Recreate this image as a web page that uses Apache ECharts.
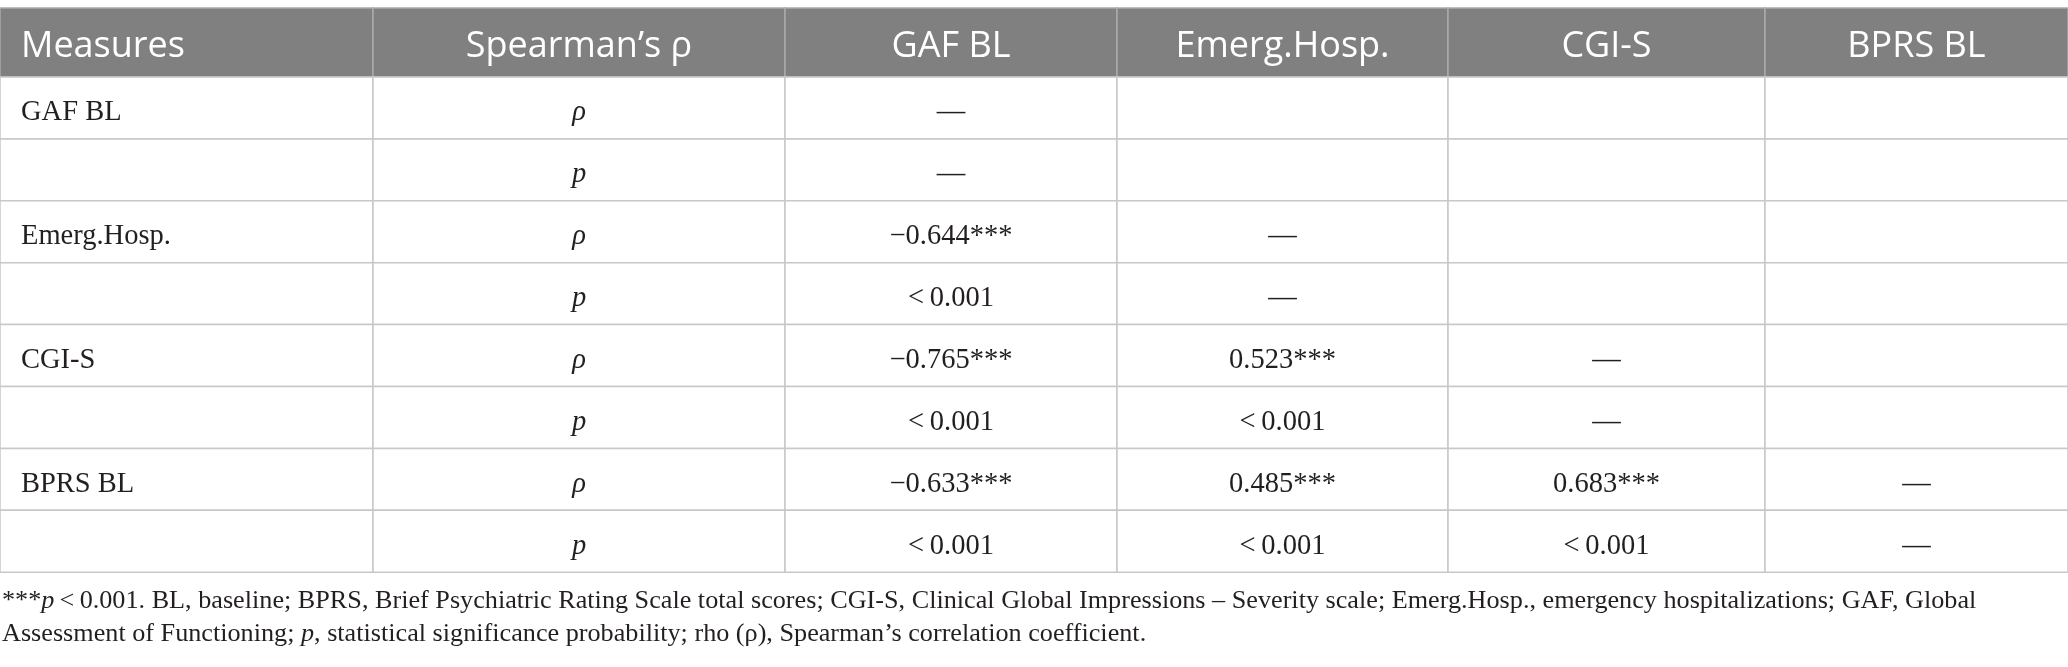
<!DOCTYPE html>
<html><head><meta charset="utf-8">
<script src="https://cdn.jsdelivr.net/npm/echarts@6/dist/echarts.min.js"></script>
<style>html,body{margin:0;padding:0;background:#fff}#c{width:2068px;height:667px}</style>
</head><body><div id="c"></div>
<script>
// ---- data ----
const headers = ['Measures', 'Spearman\u2019s \u03c1', 'GAF BL', 'Emerg.Hosp.', 'CGI-S', 'BPRS BL'];
const measures = ['GAF BL', '', 'Emerg.Hosp.', '', 'CGI-S', '', 'BPRS BL', ''];
const statLabels = ['\u03c1', 'p', '\u03c1', 'p', '\u03c1', 'p', '\u03c1', 'p'];
const gafBL = ['\u2014', '\u2014', '\u22120.644***', '<\u20090.001', '\u22120.765***', '<\u20090.001', '\u22120.633***', '<\u20090.001'];
const emergHosp = ['', '', '\u2014', '\u2014', '0.523***', '<\u20090.001', '0.485***', '<\u20090.001'];
const cgiS = ['', '', '', '', '\u2014', '\u2014', '0.683***', '<\u20090.001'];
const bprsBL = ['', '', '', '', '', '', '\u2014', '\u2014'];
const footLine1 = ['***', 'p', '\u2009<\u20090.001. BL, baseline; BPRS, Brief Psychiatric Rating Scale total scores; CGI-S, Clinical Global Impressions \u2013 Severity scale; Emerg.Hosp., emergency hospitalizations; GAF, Global'];
const footLine2 = ['Assessment of Functioning; ', 'p', ', statistical significance probability; rho (\u03c1), Spearman\u2019s correlation coefficient.'];

// ---- layout (not data) ----
const colEdges = [0, 373, 785, 1117, 1448, 1765, 2068];
const headerH = 69, rowH = 61.9;
const rowTop = r => r === 0 ? 0 : headerH + (r - 1) * rowH;
const rowBot = r => r === 0 ? headerH : headerH + r * rowH;
const tableH = headerH + 8 * rowH;

const bodyCols = [measures, statLabels, gafBL, emergHosp, cgiS, bprsBL];
const cells = [];
headers.forEach((h, c) => cells.push([c, 0, h]));
for (let r = 0; r < 8; r++) {
  bodyCols.forEach((col, c) => cells.push([c, r + 1, col[r]]));
}

const chart = echarts.init(document.getElementById('c'), null, {renderer: 'canvas'});
chart.setOption({
  animation: false,
  grid: {left: 0, right: 0, top: 8, height: tableH},
  xAxis: {type: 'value', min: 0, max: 2068, show: false},
  yAxis: {type: 'value', min: 0, max: tableH, inverse: true, show: false},
  series: [{
    type: 'custom',
    data: cells,
    renderItem: function (params, api) {
      const c = api.value(0), r = api.value(1);
      const txt = cells[params.dataIndex][2];
      const p0 = api.coord([colEdges[c], rowTop(r)]);
      const p1 = api.coord([colEdges[c + 1], rowBot(r)]);
      const isHead = r === 0;
      const left = c === 0;
      const children = [{
        type: 'rect',
        shape: {x: p0[0], y: p0[1], width: p1[0] - p0[0], height: p1[1] - p0[1]},
        style: {fill: isHead ? '#7f807f' : '#ffffff', stroke: isHead ? '#a9aaa9' : '#c8c8c8', lineWidth: 1.5}
      }];
      if (txt) {
        children.push({
          type: 'text',
          x: left ? p0[0] + 21 : (p0[0] + p1[0]) / 2,
          y: (p0[1] + p1[1]) / 2 + (isHead ? 4 : 5),
          style: {
            text: txt,
            align: left ? 'left' : 'center',
            verticalAlign: 'middle',
            fill: isHead ? '#ffffff' : '#231f20',
            fontFamily: isHead ? 'Open Sans' : 'Liberation Serif',
            fontSize: isHead ? 36 : 28.5,
            fontStyle: (!isHead && c === 1) ? 'italic' : 'normal'
          }
        });
      }
      return {type: 'group', children: children};
    }
  }],
  graphic: [{
    type: 'text',
    left: 2,
    top: 585,
    style: {
      text: '{n|' + footLine1[0] + '}{i|' + footLine1[1] + '}{n|' + footLine1[2] + '}\n' +
            '{n|' + footLine2[0] + '}{i|' + footLine2[1] + '}{n|' + footLine2[2] + '}',
      fill: '#231f20',
      fontFamily: 'Liberation Serif',
      fontSize: 26.2,
      lineHeight: 33,
      rich: {
        n: {fontFamily: 'Liberation Serif', fontSize: 26.2, lineHeight: 33, fill: '#231f20'},
        i: {fontFamily: 'Liberation Serif', fontSize: 26.2, lineHeight: 33, fontStyle: 'italic', fill: '#231f20'}
      }
    }
  }]
});
</script></body></html>
